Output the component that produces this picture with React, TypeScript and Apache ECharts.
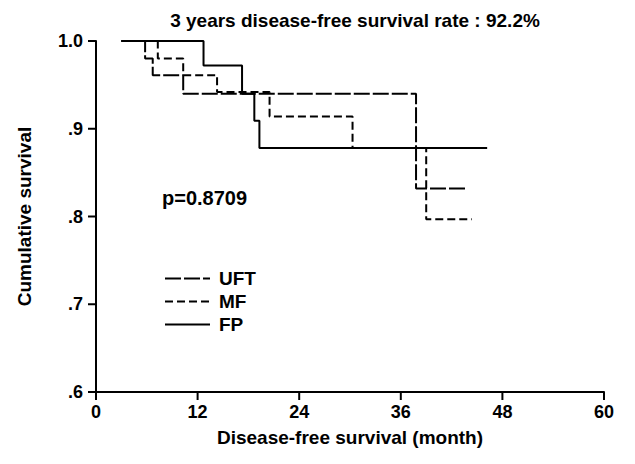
import React, { useEffect, useRef } from "react";
import * as echarts from "echarts";

const titleText = "3 years disease-free survival rate : 92.2%";
const xAxisTitle = "Disease-free survival (month)";
const yAxisTitle = "Cumulative survival";
const pValueText = "p=0.8709";

const xTicks = [0, 12, 24, 36, 48, 60];
const yTicks = [0.6, 0.7, 0.8, 0.9, 1.0];
const yTickLabels: Record<string, string> = { "0.6": ".6", "0.7": ".7", "0.8": ".8", "0.9": ".9", "1": "1.0" };

// Kaplan-Meier steps: [month, cumulative survival]
const uftMonths = [3, 5.8, 6.7, 10.3, 37.8, 43.8];
const uftSurv = [1.0, 0.98, 0.961, 0.94, 0.832, 0.832];

const mfMonths = [3, 7.3, 10.3, 14.3, 20.5, 30.3, 39.0, 44.4];
const mfSurv = [1.0, 0.98, 0.961, 0.942, 0.914, 0.878, 0.797, 0.797];

const fpMonths = [3, 12.7, 17.25, 18.7, 19.3, 46.2];
const fpSurv = [1.0, 0.972, 0.94, 0.909, 0.878, 0.878];

const FONT = "'Liberation Sans', Arial, sans-serif";
const TICK_LEN = 8;

function zip(xs: number[], ys: number[]) {
  return xs.map((x, i) => [x, ys[i]]);
}

export default function App() {
  const ref = useRef<HTMLDivElement>(null);
  useEffect(() => {
    if (!ref.current) return;
    const chart = echarts.init(ref.current, null, { renderer: "svg" });
    const textBase = { fontFamily: FONT, fontWeight: "bold" as const, color: "#000" };
    chart.setOption({
      animation: false,
      backgroundColor: "#fff",
      title: {
        text: titleText,
        left: 350,
        textAlign: "center",
        top: 6,
        textStyle: { ...textBase, fontSize: 19 },
      },
      grid: { left: 96, right: 31, top: 41, bottom: 72 },
      legend: {
        orient: "vertical",
        left: 159,
        top: 264,
        itemWidth: 45,
        itemHeight: 20,
        itemGap: 4,
        data: ["UFT", "MF", "FP"],
        itemStyle: { opacity: 0 },
        textStyle: { ...textBase, fontSize: 19, padding: [0, 0, 0, 4] },
      },
      xAxis: {
        type: "value",
        min: 0,
        max: 60,
        interval: 12,
        name: xAxisTitle,
        nameLocation: "middle",
        nameGap: 36,
        nameTextStyle: { ...textBase, fontSize: 19 },
        axisLine: { show: true, onZero: false, lineStyle: { color: "#000", width: 2 } },
        axisTick: { show: false },
        axisLabel: { show: true, ...textBase, fontSize: 18, margin: 11 },
        splitLine: { show: false },
      },
      yAxis: {
        type: "value",
        min: 0.6,
        max: 1.0,
        interval: 0.1,
        name: yAxisTitle,
        nameLocation: "middle",
        nameGap: 62,
        nameTextStyle: { ...textBase, fontSize: 19 },
        axisLine: { show: true, onZero: false, lineStyle: { color: "#000", width: 2 } },
        axisTick: { show: false },
        axisLabel: {
          show: true,
          ...textBase,
          fontSize: 18,
          margin: 13,
          formatter: (v: number) => yTickLabels[String(Math.round(v * 10) / 10)] ?? String(v),
        },
        splitLine: { show: false },
      },
      series: [
        {
          name: "UFT",
          type: "line",
          step: "end",
          symbol: "none",
          data: zip(uftMonths, uftSurv),
          lineStyle: { color: "#000", width: 2, type: [16, 3] },
          itemStyle: { color: "#000" },
          z: 2,
        },
        {
          name: "MF",
          type: "line",
          step: "end",
          symbol: "none",
          data: zip(mfMonths, mfSurv),
          lineStyle: { color: "#000", width: 2, type: [8, 4] },
          itemStyle: { color: "#000" },
          z: 3,
        },
        {
          name: "FP",
          type: "line",
          step: "end",
          symbol: "none",
          data: zip(fpMonths, fpSurv),
          lineStyle: { color: "#000", width: 2, type: "solid" },
          itemStyle: { color: "#000" },
          z: 4,
        },
      ],
    });

    // Outward axis ticks, placed through the chart's own scales
    const tickEls: any[] = [];
    xTicks.forEach((v) => {
      const p = chart.convertToPixel({ gridIndex: 0 }, [v, yTicks[0]]) as number[];
      tickEls.push({
        type: "line",
        silent: true,
        z: 10,
        shape: { x1: p[0], y1: p[1], x2: p[0], y2: p[1] + TICK_LEN },
        style: { stroke: "#000", lineWidth: 2 },
      });
    });
    yTicks.forEach((v) => {
      const p = chart.convertToPixel({ gridIndex: 0 }, [xTicks[0], v]) as number[];
      tickEls.push({
        type: "line",
        silent: true,
        z: 10,
        shape: { x1: p[0] - TICK_LEN, y1: p[1], x2: p[0], y2: p[1] },
        style: { stroke: "#000", lineWidth: 2 },
      });
    });
    chart.setOption({
      graphic: [
        {
          type: "text",
          left: 162,
          top: 188,
          style: { text: pValueText, font: `bold 20px ${FONT}`, fill: "#000" },
        },
        ...tickEls,
      ],
    });
    return () => chart.dispose();
  }, []);
  return <div ref={ref} style={{ width: 635, height: 464, position: "absolute", left: 0, top: 0 }} />;
}
